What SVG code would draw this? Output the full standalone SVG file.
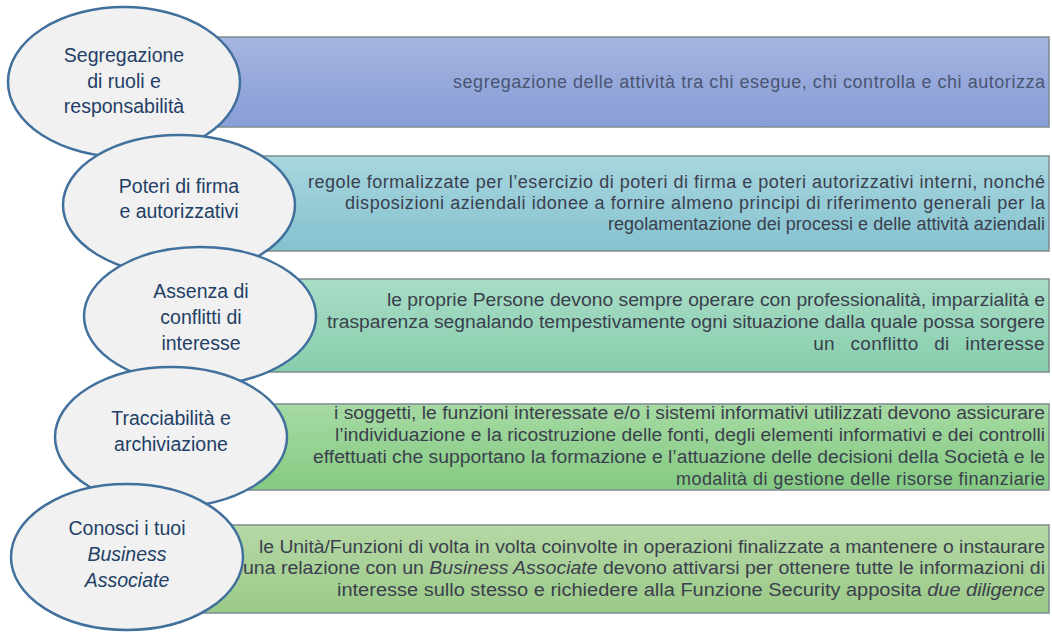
<svg xmlns="http://www.w3.org/2000/svg" width="1052" height="632" viewBox="0 0 1052 632">
<defs>
<linearGradient id="g1" x1="0" y1="0" x2="0" y2="1"><stop offset="0" stop-color="#a5b4df"/><stop offset="1" stop-color="#889ed7"/></linearGradient>
<linearGradient id="g2" x1="0" y1="0" x2="0" y2="1"><stop offset="0" stop-color="#a8d6df"/><stop offset="1" stop-color="#84c2cf"/></linearGradient>
<linearGradient id="g3" x1="0" y1="0" x2="0" y2="1"><stop offset="0" stop-color="#a8dcc6"/><stop offset="1" stop-color="#87cead"/></linearGradient>
<linearGradient id="g4" x1="0" y1="0" x2="0" y2="1"><stop offset="0" stop-color="#a6daa3"/><stop offset="1" stop-color="#84ca82"/></linearGradient>
<linearGradient id="g5" x1="0" y1="0" x2="0" y2="1"><stop offset="0" stop-color="#b6d8a6"/><stop offset="1" stop-color="#9bca88"/></linearGradient>
</defs>
<style>
.box{stroke:#7d8a8e;stroke-width:1.5}
.oval{fill:#f1f1f2;stroke:#41709c;stroke-width:2.5}
.lbl{font-family:"Liberation Sans",Arial,sans-serif;font-size:19.5px;fill:#233f66;text-anchor:middle}
.txt{font-family:"Liberation Sans",Arial,sans-serif;font-size:18px;fill:#3b3f4d;text-anchor:start}
.end{text-anchor:end;font-size:19px;word-spacing:10px;letter-spacing:0.3px}
.t1{fill:#4a5572}
.it{font-style:italic}
</style>
<rect width="1052" height="632" fill="#ffffff"/>
<g id="connectors"></g>
<g id="node1">
<rect class="box" x="200" y="37" width="849" height="90" fill="url(#g1)"/>
<text class="txt t1" x="453" y="88" textLength="592" lengthAdjust="spacing">segregazione delle attività tra chi esegue, chi controlla e chi autorizza</text>
<ellipse class="oval" cx="124" cy="82" rx="116" ry="75"/>
<text class="lbl" x="124" y="62">Segregazione</text>
<text class="lbl" x="124" y="88">di ruoli e</text>
<text class="lbl" x="124" y="113">responsabilità</text>
</g>
<g id="node2">
<rect class="box" x="200" y="156" width="849" height="95" fill="url(#g2)"/>
<text class="txt" x="308" y="188" textLength="737" lengthAdjust="spacing">regole formalizzate per l’esercizio di poteri di firma e poteri autorizzativi interni, nonché</text>
<text class="txt" x="345" y="209" textLength="700" lengthAdjust="spacing">disposizioni aziendali idonee a fornire almeno principi di riferimento generali per la</text>
<text class="txt" x="608" y="230" textLength="437" lengthAdjust="spacing">regolamentazione dei processi e delle attività aziendali</text>
<ellipse class="oval" cx="179" cy="205" rx="116" ry="70"/>
<text class="lbl" x="179" y="193">Poteri di firma</text>
<text class="lbl" x="179" y="218">e autorizzativi</text>
</g>
<g id="node3">
<rect class="box" x="200" y="279" width="849" height="93" fill="url(#g3)"/>
<text class="txt" x="387" y="306" textLength="658" lengthAdjust="spacingAndGlyphs">le proprie Persone devono sempre operare con professionalità, imparzialità e</text>
<text class="txt" x="327" y="328" textLength="718" lengthAdjust="spacingAndGlyphs">trasparenza segnalando tempestivamente ogni situazione dalla quale possa sorgere</text>
<text class="txt end" x="1045" y="350">un conflitto di interesse</text>
<ellipse class="oval" cx="200" cy="316" rx="116" ry="69"/>
<text class="lbl" x="201" y="298">Assenza di</text>
<text class="lbl" x="201" y="324">conflitti di</text>
<text class="lbl" x="201" y="350">interesse</text>
</g>
<g id="node4">
<rect class="box" x="200" y="404" width="849" height="86" fill="url(#g4)"/>
<text class="txt" x="334" y="419" textLength="711" lengthAdjust="spacingAndGlyphs">i soggetti, le funzioni interessate e/o i sistemi informativi utilizzati devono assicurare</text>
<text class="txt" x="335" y="441" textLength="710" lengthAdjust="spacingAndGlyphs">l’individuazione e la ricostruzione delle fonti, degli elementi informativi e dei controlli</text>
<text class="txt" x="313" y="463" textLength="732" lengthAdjust="spacingAndGlyphs">effettuati che supportano la formazione e l’attuazione delle decisioni della Società e le</text>
<text class="txt" x="676" y="485" textLength="369" lengthAdjust="spacing">modalità di gestione delle risorse finanziarie</text>
<ellipse class="oval" cx="171" cy="437" rx="116" ry="70"/>
<text class="lbl" x="171" y="425">Tracciabilità e</text>
<text class="lbl" x="171" y="451">archiviazione</text>
</g>
<g id="node5">
<rect class="box" x="170" y="525" width="879" height="88" fill="url(#g5)"/>
<text class="txt" x="259" y="553" textLength="786" lengthAdjust="spacingAndGlyphs">le Unità/Funzioni di volta in volta coinvolte in operazioni finalizzate a mantenere o instaurare</text>
<text class="txt" x="243" y="574" textLength="802" lengthAdjust="spacingAndGlyphs">una relazione con un <tspan class="it">Business Associate</tspan> devono attivarsi per ottenere tutte le informazioni di</text>
<text class="txt" x="337" y="596" textLength="708" lengthAdjust="spacingAndGlyphs">interesse sullo stesso e richiedere alla Funzione Security apposita <tspan class="it">due diligence</tspan></text>
<ellipse class="oval" cx="127" cy="557" rx="116" ry="73"/>
<text class="lbl" x="127" y="535">Conosci i tuoi</text>
<text class="lbl it" x="127" y="561">Business</text>
<text class="lbl it" x="127" y="587">Associate</text>
</g>
</svg>
